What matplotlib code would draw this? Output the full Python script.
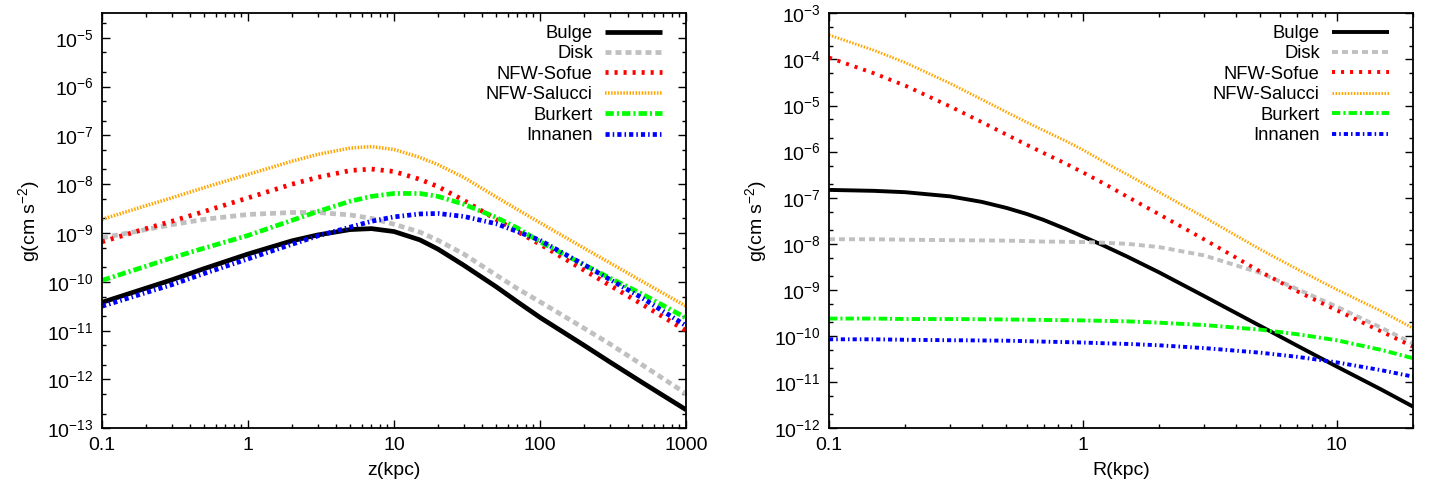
import matplotlib
matplotlib.use("Agg")
import matplotlib.pyplot as plt
import numpy as np
from matplotlib.ticker import LogLocator, NullFormatter, FuncFormatter

plt.rcParams['font.family'] = ['Liberation Sans', 'DejaVu Sans']
plt.rcParams['mathtext.fontset'] = 'custom'
plt.rcParams['mathtext.rm'] = 'Liberation Sans'
plt.rcParams['mathtext.it'] = 'Liberation Sans:italic'
plt.rcParams['mathtext.default'] = 'regular'
plt.rcParams['lines.scale_dashes'] = False

labels = ["Bulge", "Disk", "NFW-Sofue", "NFW-Salucci", "Burkert", "Innanen"]

# vertical acceleration vs height z, stored as log10 g [cm s^-2]
z_kpc = [0.1, 0.2, 0.3, 0.5, 1, 2, 3, 5, 7, 10, 15, 20, 30, 50, 70, 100, 200, 300, 500, 1000]
logg_z_bulge = [-10.42, -10.13, -9.96, -9.73, -9.43, -9.16, -9.04, -8.93, -8.91, -8.97,
                 -9.14, -9.33, -9.66, -10.10, -10.41, -10.73, -11.30, -11.64, -12.06, -12.62]
logg_z_disk = [-9.10, -8.93, -8.83, -8.72, -8.62, -8.58, -8.58, -8.63, -8.70, -8.82,
               -8.98, -9.15, -9.43, -9.86, -10.14, -10.41, -10.95, -11.27, -11.70, -12.29]
logg_z_sofue = [-9.18, -8.91, -8.76, -8.56, -8.28, -8.00, -7.86, -7.72, -7.69, -7.74,
                -7.90, -8.05, -8.33, -8.72, -8.97, -9.23, -9.76, -10.07, -10.46, -11.00]
logg_z_salucci = [-8.72, -8.44, -8.28, -8.07, -7.80, -7.53, -7.39, -7.26, -7.23, -7.29,
                  -7.45, -7.60, -7.86, -8.26, -8.52, -8.79, -9.31, -9.61, -9.99, -10.50]
logg_z_burkert = [-9.97, -9.68, -9.51, -9.31, -9.05, -8.74, -8.56, -8.35, -8.25, -8.19,
                  -8.19, -8.25, -8.41, -8.68, -8.90, -9.18, -9.65, -9.92, -10.25, -10.74]
logg_z_innanen = [-10.50, -10.22, -10.06, -9.83, -9.53, -9.23, -9.06, -8.88, -8.76, -8.67,
                  -8.61, -8.60, -8.66, -8.81, -8.97, -9.15, -9.65, -9.95, -10.33, -10.90]

# radial acceleration vs galactocentric radius R
R_kpc = [0.1, 0.15, 0.2, 0.3, 0.4, 0.5, 0.6, 0.7, 0.85, 1, 1.2, 1.5, 2, 3, 5, 7, 10, 15, 20]
logg_R_bulge = [-6.83, -6.85, -6.88, -6.97, -7.09, -7.22, -7.35, -7.48, -7.67, -7.84,
                -8.03, -8.28, -8.62, -9.13, -9.78, -10.21, -10.66, -11.16, -11.53]
logg_R_disk = [-7.90, -7.90, -7.91, -7.92, -7.925, -7.93, -7.94, -7.95, -7.955, -7.96,
               -7.975, -8.00, -8.07, -8.25, -8.63, -8.98, -9.36, -9.82, -10.16]
logg_R_sofue = [-3.96, -4.30, -4.57, -5.02, -5.36, -5.63, -5.85, -6.03, -6.25, -6.45,
                -6.68, -6.98, -7.36, -7.90, -8.60, -9.03, -9.44, -9.90, -10.23]
logg_R_salucci = [-3.47, -3.80, -4.07, -4.52, -4.87, -5.14, -5.36, -5.54, -5.76, -5.96,
                  -6.21, -6.50, -6.88, -7.42, -8.12, -8.55, -8.99, -9.46, -9.83]
logg_R_burkert = [-9.62, -9.62, -9.63, -9.63, -9.635, -9.64, -9.645, -9.65, -9.655, -9.66,
                  -9.67, -9.68, -9.71, -9.76, -9.86, -9.96, -10.09, -10.30, -10.48]
logg_R_innanen = [-10.07, -10.07, -10.08, -10.09, -10.095, -10.10, -10.11, -10.12, -10.13, -10.14,
                  -10.155, -10.17, -10.20, -10.26, -10.36, -10.45, -10.57, -10.74, -10.88]

colors = ['black', '#c0c0c0', '#ff0000', '#ffa500', '#00ff00', '#0000ff']
# dash patterns in points (gnuplot-like line types)
dash_styles = [None, (4.3, 2.9), (2.2, 4.3), (1.1, 1.1), (6.0, 2.2, 1.5, 2.2), (3.0, 2.2, 1.1, 2.2)]


def sci_fmt(v, pos):
    e = int(round(np.log10(v)))
    return r'$10^{%d}$' % e


def plain_fmt(v, pos):
    return '%g' % v


def style_axes(ax):
    ax.set_xscale('log')
    ax.set_yscale('log')
    ax.xaxis.set_major_formatter(FuncFormatter(plain_fmt))
    ax.xaxis.set_minor_locator(LogLocator(base=10, subs=np.arange(2, 10)))
    ax.xaxis.set_minor_formatter(NullFormatter())
    ax.yaxis.set_major_locator(LogLocator(base=10, subs=(1.0,), numticks=20))
    ax.yaxis.set_major_formatter(FuncFormatter(sci_fmt))
    ax.yaxis.set_minor_locator(LogLocator(base=10, subs=(2.0, 5.0), numticks=20))
    ax.yaxis.set_minor_formatter(NullFormatter())
    ax.tick_params(which='both', direction='in', top=True, right=True, labelsize=14, width=1.0)
    ax.tick_params(which='major', length=6, pad=6)
    ax.tick_params(which='minor', length=3)
    for s in ax.spines.values():
        s.set_linewidth(1.3)
    ax.set_ylabel(r'g(cm s$^{-2}$)', fontsize=14, labelpad=4)


def draw(ax, x, series, lw):
    for lab, lg, c, d in zip(labels, series, colors, dash_styles):
        w = lw * 0.75 if lab == "NFW-Salucci" else lw
        line, = ax.plot(x, 10.0 ** np.asarray(lg), color=c, lw=w, label=lab,
                        solid_capstyle='butt', dash_capstyle='butt')
        if d is not None:
            line.set_dashes(d)
    ax.legend(loc='upper right', bbox_to_anchor=(0.958, 0.972), frameon=False,
              markerfirst=False, fontsize=13.2, handlelength=3.1, handletextpad=0.65,
              labelspacing=0.19, borderaxespad=0, borderpad=0)


fig = plt.figure(figsize=(14.35, 4.91), dpi=100)
ax1 = fig.add_axes([0.0711, 0.1277, 0.4070, 0.8452])
ax2 = fig.add_axes([0.5777, 0.1277, 0.4070, 0.8452])

draw(ax1, z_kpc, [logg_z_bulge, logg_z_disk, logg_z_sofue, logg_z_salucci,
                  logg_z_burkert, logg_z_innanen], 3.4)
style_axes(ax1)
ax1.set_xlim(0.1, 1000)
ax1.set_ylim(1e-13, 10 ** -4.5)
ax1.set_xlabel('z(kpc)', fontsize=14, labelpad=6)

draw(ax2, R_kpc, [logg_R_bulge, logg_R_disk, logg_R_sofue, logg_R_salucci,
                  logg_R_burkert, logg_R_innanen], 2.8)
style_axes(ax2)
ax2.set_xlim(0.1, 20)
ax2.set_ylim(1e-12, 1e-3)
ax2.set_xlabel('R(kpc)', fontsize=14, labelpad=6)

fig.savefig('out.png', dpi=100)
